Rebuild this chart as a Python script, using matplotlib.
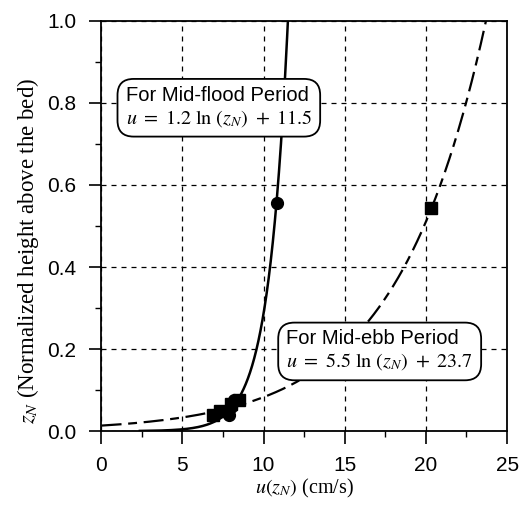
import numpy as np
import matplotlib
matplotlib.use("Agg")
import matplotlib.pyplot as plt
from matplotlib.ticker import MultipleLocator

plt.rcParams['mathtext.fontset'] = 'stix'

# Fitted log-profile coefficients u = a ln(z) + b
flood_coef = [1.2, 11.5]
ebb_coef = [5.5, 23.7]

# Observed points (u cm/s, z_N)
flood_u = [7.9, 8.0, 8.2, 10.8]
flood_z = [0.04, 0.06, 0.075, 0.555]
ebb_u = [6.9, 7.3, 8.0, 8.5, 20.3]
ebb_z = [0.04, 0.05, 0.065, 0.075, 0.545]

fig = plt.figure(figsize=(5.19, 5.09), dpi=100)
ax = fig.add_axes([0.195, 0.153, 0.782, 0.806])

z = np.linspace(0.0005, 1.0, 2000)
u_fl = flood_coef[0] * np.log(z) + flood_coef[1]
u_eb = ebb_coef[0] * np.log(z) + ebb_coef[1]
m = u_fl >= 0
ax.plot(u_fl[m], z[m], color='black', lw=1.8, zorder=3)
m = u_eb >= 0
ax.plot(u_eb[m], z[m], color='black', lw=1.6, dashes=(9, 3, 4, 3), zorder=3)

ax.plot(flood_u, flood_z, 'o', color='black', ms=8.5, zorder=4)
ax.plot(ebb_u, ebb_z, 's', color='black', ms=8.5, zorder=4)

ax.set_xlim(0, 25)
ax.set_ylim(0, 1.0)
ax.xaxis.set_major_locator(MultipleLocator(5))
ax.xaxis.set_minor_locator(MultipleLocator(2.5))
ax.yaxis.set_major_locator(MultipleLocator(0.2))
ax.yaxis.set_minor_locator(MultipleLocator(0.1))
ax.set_yticks([0, 0.2, 0.4, 0.6, 0.8, 1.0])
ax.set_yticklabels(['0.0', '0.2', '0.4', '0.6', '0.8', '1.0'])
ax.tick_params(which='major', direction='out', length=9, width=1.2, labelsize=15, pad=9)
ax.tick_params(which='minor', direction='out', length=4, width=1.0)
for lab in ax.get_xticklabels() + ax.get_yticklabels():
    lab.set_family('Liberation Sans')

ax.grid(True, which='major', color='black', ls=(0, (4, 4)), lw=0.9)
for s in ax.spines.values():
    s.set_linewidth(1.3)

ax.set_xlabel(r'$u(z_N)$ (cm/s)', family='Liberation Serif', fontsize=14.5, labelpad=1)
ax.set_ylabel(r'$z_N$ (Normalized height above the bed)', family='Liberation Serif',
              fontsize=16.5)
ax.yaxis.set_label_coords(-0.148, 0.44)

box = dict(boxstyle='round,pad=0.4,rounding_size=0.8', fc='white', ec='black', lw=1.3)
ax.text(1.5, 0.79, 'For Mid-flood Period\n' + r'$u\ =\ 1.2\ \mathrm{ln}\ (z_N)\ +\ 11.5$',
        family='Liberation Sans', fontsize=14.5, va='center', ha='left',
        multialignment='left', bbox=box, zorder=5, linespacing=1.2)
ax.text(11.4, 0.196, 'For Mid-ebb Period\n' + r'$u\ =\ 5.5\ \mathrm{ln}\ (z_N)\ +\ 23.7$',
        family='Liberation Sans', fontsize=14.5, va='center', ha='left',
        multialignment='left', bbox=box, zorder=5, linespacing=1.2)

fig.savefig('out.png', dpi=100)
